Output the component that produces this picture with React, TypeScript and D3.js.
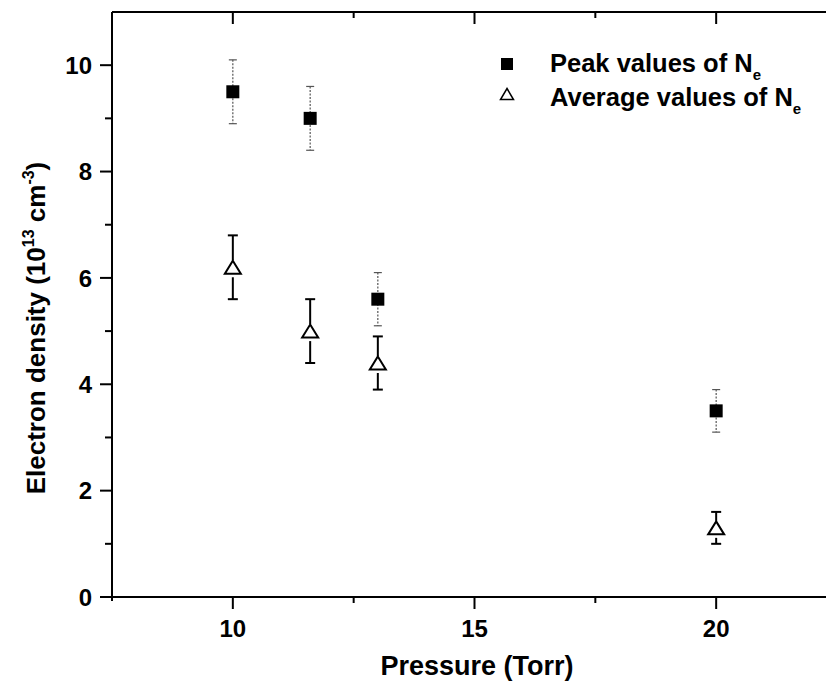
import React from "react";
import * as d3 from "d3";

const pressures = [10, 11.6, 13, 20];
const peakValues = [9.5, 9.0, 5.6, 3.5];
const peakErrors = [0.6, 0.6, 0.5, 0.4];
const avgValues = [6.2, 5.0, 4.4, 1.3];
const avgErrors = [0.6, 0.6, 0.5, 0.3];
const xMajorTicks = [10, 15, 20];
const xMinorTicks = [12.5, 17.5];
const yMajorTicks = [0, 2, 4, 6, 8, 10];
const yMinorTicks = [1, 3, 5, 7, 9];
const legendLabels = ["Peak values of N", "Average values of N"];

const W = 826;
const H = 688;
const FONT = "'Liberation Sans', Arial, Helvetica, sans-serif";

export default function App() {
  const x = d3.scaleLinear().domain([7.5, 22.5]).range([112, 837]);
  const y = d3.scaleLinear().domain([0, 11]).range([597, 12]);
  const x0 = x(7.5);
  const y0 = y(0);
  const yTop = y(11);

  const triPath = (cx: number, cy: number, w: number, h: number) =>
    `M${cx},${cy - h / 2}L${cx + w / 2},${cy + h / 2}L${cx - w / 2},${cy + h / 2}Z`;

  return (
    <svg
      width={W}
      height={H}
      style={{ position: "absolute", left: 0, top: 0, background: "#fff" }}
      fontFamily={FONT}
    >
      <rect x={0} y={0} width={W} height={H} fill="#fff" />
      {/* axes lines */}
      <line x1={x0} x2={W} y1={y0} y2={y0} stroke="#000" strokeWidth={2} />
      <line x1={x0} x2={W} y1={yTop} y2={yTop} stroke="#000" strokeWidth={2} />
      <line x1={x0} x2={x0} y1={yTop} y2={y0 + 4} stroke="#000" strokeWidth={2} />

      {/* x ticks bottom (outward) and top (inward) */}
      {xMajorTicks.map((t) => (
        <g key={"xM" + t}>
          <line x1={x(t)} x2={x(t)} y1={y0} y2={y0 + 12} stroke="#000" strokeWidth={2} />
          <line x1={x(t)} x2={x(t)} y1={yTop} y2={yTop + 12} stroke="#000" strokeWidth={2} />
          <text x={x(t)} y={637} textAnchor="middle" fontSize={24} fontWeight="bold">
            {t}
          </text>
        </g>
      ))}
      {xMinorTicks.map((t) => (
        <g key={"xm" + t}>
          <line x1={x(t)} x2={x(t)} y1={y0} y2={y0 + 6} stroke="#000" strokeWidth={2} />
          <line x1={x(t)} x2={x(t)} y1={yTop} y2={yTop + 6} stroke="#000" strokeWidth={2} />
        </g>
      ))}

      {/* y ticks (outward) */}
      {yMajorTicks.map((t) => (
        <g key={"yM" + t}>
          <line x1={x0 - 12} x2={x0} y1={y(t)} y2={y(t)} stroke="#000" strokeWidth={2} />
          <text
            x={92}
            y={y(t)}
            dy="0.36em"
            textAnchor="end"
            fontSize={24}
            fontWeight="bold"
          >
            {t}
          </text>
        </g>
      ))}
      {yMinorTicks.map((t) => (
        <line key={"ym" + t} x1={x0 - 7} x2={x0} y1={y(t)} y2={y(t)} stroke="#000" strokeWidth={2} />
      ))}

      {/* axis titles */}
      <text x={477} y={675} textAnchor="middle" fontSize={27} fontWeight="bold">
        Pressure (Torr)
      </text>
      <text
        transform={`translate(45,328) rotate(-90)`}
        textAnchor="middle"
        fontSize={26}
        fontWeight="bold"
      >
        Electron density (10
        <tspan dy={-11} fontSize={16}>13</tspan>
        <tspan dy={11}> cm</tspan>
        <tspan dy={-11} fontSize={16}>-3</tspan>
        <tspan dy={11}>)</tspan>
      </text>

      {/* peak series error bars (thin dotted) */}
      {pressures.map((p, i) => {
        const cx = x(p);
        const top = y(peakValues[i] + peakErrors[i]);
        const bot = y(peakValues[i] - peakErrors[i]);
        return (
          <g key={"pe" + i} stroke="#555" strokeWidth={1.2}>
            <line x1={cx} x2={cx} y1={top} y2={bot} strokeDasharray="2,1.5" />
            <line x1={cx - 4} x2={cx + 4} y1={top} y2={top} />
            <line x1={cx - 4} x2={cx + 4} y1={bot} y2={bot} />
          </g>
        );
      })}
      {pressures.map((p, i) => (
        <rect
          key={"ps" + i}
          x={x(p) - 6.5}
          y={y(peakValues[i]) - 6.5}
          width={13}
          height={13}
          fill="#000"
        />
      ))}

      {/* average series error bars (solid thick) */}
      {pressures.map((p, i) => {
        const cx = x(p);
        const cy = y(avgValues[i]);
        const top = y(avgValues[i] + avgErrors[i]);
        const bot = y(avgValues[i] - avgErrors[i]);
        return (
          <g key={"ae" + i} stroke="#000" strokeWidth={2}>
            <line x1={cx} x2={cx} y1={top} y2={Math.min(cy - 7, bot)} />
            <line x1={cx} x2={cx} y1={Math.max(cy + 10, top)} y2={bot} />
            <line x1={cx - 5} x2={cx + 5} y1={top} y2={top} />
            <line x1={cx - 5} x2={cx + 5} y1={bot} y2={bot} />
          </g>
        );
      })}
      {pressures.map((p, i) => (
        <path
          key={"at" + i}
          d={triPath(x(p), y(avgValues[i]), 16, 13)}
          fill="#fff"
          stroke="#000"
          strokeWidth={2}
        />
      ))}

      {/* legend */}
      <rect x={501} y={58} width={12} height={12} fill="#000" />
      <path d={triPath(507, 94, 13, 11)} fill="#fff" stroke="#000" strokeWidth={1.5} />
      <text x={550} y={72} fontSize={25.5} fontWeight="bold">
        {legendLabels[0]}
        <tspan dy={8} fontSize={15}>e</tspan>
      </text>
      <text x={550} y={106} fontSize={25.5} fontWeight="bold">
        {legendLabels[1]}
        <tspan dy={8} fontSize={15}>e</tspan>
      </text>
    </svg>
  );
}
